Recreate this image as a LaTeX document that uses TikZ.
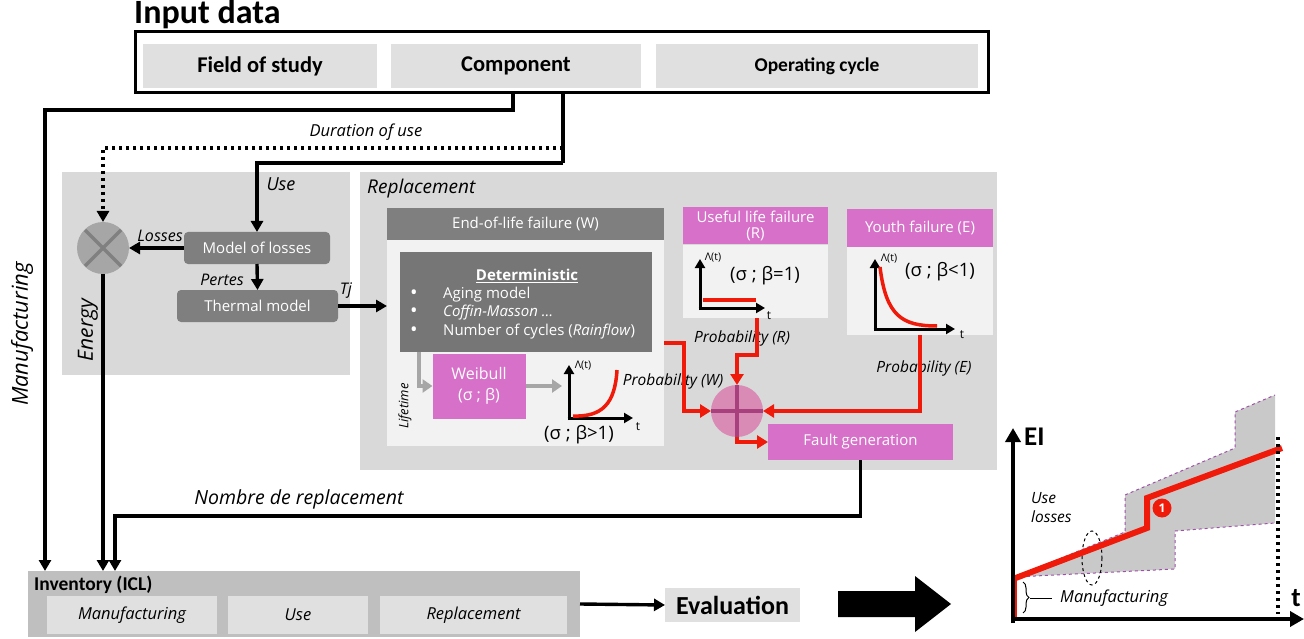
\documentclass[tikz,border=0pt]{standalone}
\usepackage{fontspec}
\setmainfont{Open Sans}
\newfontfamily\calfont{Carlito}
\usetikzlibrary{arrows.meta,calc,decorations.pathreplacing}
\newcommand{\fsz}[2]{\fontsize{#1}{#2}\selectfont}
\definecolor{panel}{HTML}{D9D9D9}
\definecolor{cell}{HTML}{E0E0E0}
\definecolor{dark}{HTML}{7F7F7F}
\definecolor{darker}{HTML}{767676}
\definecolor{bodyfill}{HTML}{F2F2F2}
\definecolor{mag}{HTML}{D670C8}
\definecolor{plusfill}{HTML}{D98BB6}
\definecolor{pluscross}{HTML}{A8407E}
\definecolor{xfill}{HTML}{A6A6A6}
\definecolor{xcross}{HTML}{808080}
\definecolor{invfill}{HTML}{BFBFBF}
\definecolor{band}{HTML}{C9C9C9}
\definecolor{bandedge}{HTML}{A050A8}
\definecolor{arrowgray}{HTML}{A6A6A6}
\definecolor{redline}{HTML}{F01A0A}
\tikzset{
  box/.style 2 args={rectangle,inner sep=0pt,outer sep=0pt,minimum width=#1,minimum height=#2},
  conn/.style={line width=3.4pt,-{Triangle[length=11pt,width=12pt]}},
  dotconn/.style={line width=3.5pt,dash pattern=on 3.5pt off 3.5pt,-{Triangle[length=11pt,width=12pt]}},
  redconn/.style={redline,line width=4pt,-{Triangle[length=11pt,width=13pt]}},
  grayconn/.style={arrowgray,line width=4.5pt,-{Triangle[length=10pt,width=13pt]}},
  plotaxis/.style={line width=3pt,-{Triangle[length=9pt,width=10pt]}},
  lab/.style={inner sep=0pt,font=\itshape\fsz{16}{18}},
  whitetxt/.style={text=white,font=\fsz{15}{17}},
}
\begin{document}
\begin{tikzpicture}[x=1pt,y=-1pt]
\useasboundingbox (0,0) rectangle (1304,639);

% ---------- input data ----------
\node[anchor=base west,inner sep=0pt,font=\calfont\bfseries\fsz{34}{38}] (title) at (134,24) {Input data};
\node[box={853}{61},draw,line width=3pt] (inbox) at (561.5,62.5) {};
\node[box={234}{44},fill=cell,font=\calfont\bfseries\fsz{22.5}{26}] (field) at (260,66) {Field of study};
\node[box={250}{44},fill=cell,font=\calfont\bfseries\fsz{22.5}{26}] (comp) at (516,66) {Component};
\node[box={322}{44},fill=cell,font=\calfont\bfseries\fsz{19.5}{22}] (opcyc) at (817,66) {Operating cycle};

% ---------- energy panel ----------
\node[box={288}{203},fill=panel] (energy) at (206,273.5) {};
\node[rotate=90,lab,font=\itshape\fsz{21}{24}] at (88,330) {Energy};
\node[circle,fill=xfill,minimum size=52pt,inner sep=0pt,outer sep=0pt] (mult) at (103,248) {};
\draw[xcross,line width=3.5pt] ($(mult)+(-18,-18)$) -- ($(mult)+(18,18)$)
                               ($(mult)+(-18,18)$) -- ($(mult)+(18,-18)$);
\node[box={146}{32},fill=dark,rounded corners=4pt,whitetxt] (loss) at (257,248) {Model of losses};
\node[box={161}{32},fill=dark,rounded corners=4pt,whitetxt] (therm) at (257.5,306) {Thermal model};

% ---------- replacement panel ----------
\node[box={637}{298},fill=panel] (repl) at (678.5,321) {};
\node[anchor=west,lab,font=\itshape\fsz{19}{22}] at (367,189) {Replacement};

% end-of-life failure
\node[box={277}{206},fill=bodyfill] (eolbody) at (525.5,343) {};
\node[box={277}{32},fill=dark,whitetxt] (eolhead) at (525.5,224) {End-of-life failure (W)};
\node[box={252}{100},fill=darker] (det) at (526,302) {};
\node[text=white,inner sep=0pt,font=\bfseries\fsz{15}{17}] at (527,276) {\underline{Deterministic}};
\foreach \yy/\tt in {295/{Aging model},313/{\itshape Coffin-Masson \dots},332/{Number of cycles (\textit{Rainflow})}}{
  \node[text=white,inner sep=0pt,font=\fsz{20}{20}] at (414,\yy) {\textbullet};
  \node[text=white,anchor=west,inner sep=0pt,font=\fsz{15}{17}] at (443,\yy) {\tt};
}
\node[box={93}{65},fill=mag,whitetxt,align=center,font=\fsz{16}{21}] (weib) at (479,386) {Weibull\\(σ ; β)};
\node[rotate=90,lab,font=\itshape\fsz{13}{15}] at (405,406) {Lifetime};
\coordinate (detg) at (419,352);
\coordinate (wtip) at (562,386);
\draw[grayconn] (detg) |- (weib.west);
\draw[grayconn] (weib.east) -- (wtip);
% hazard curve, beta > 1
\draw[plotaxis] (569,420) -- (569,365);
\draw[plotaxis] (567.5,418) -- (633,418);
\draw[redline,line width=3.5pt] (573,416) .. controls (602,417) and (615,404) .. (617,370);
\node[inner sep=0pt,font=\fsz{10.5}{12}] at (583,366) {Λ(t)};
\node[inner sep=0pt,font=\fsz{12}{13}] at (638,427) {t};
\node[inner sep=0pt,font=\fsz{18.5}{20}] at (579,435) {(σ ; β>1)};
\node[lab,font=\itshape\fsz{15.5}{17}] at (673,381) {Probability (W)};

% useful life failure
\node[box={145}{73},fill=bodyfill] (rbody) at (755.5,281.5) {};
\node[box={145}{37},fill=mag,whitetxt,align=center,font=\fsz{15}{16}] (rhead) at (755.5,226) {Useful life failure\\(R)};
\draw[plotaxis] (700,310) -- (700,259);
\draw[plotaxis] (698.5,308) -- (765,308);
\draw[redline,line width=3.5pt] (703,300) -- (756,300);
\node[inner sep=0pt,font=\fsz{10.5}{12}] at (713,258) {Λ(t)};
\node[inner sep=0pt,font=\fsz{12}{13}] at (769,316) {t};
\node[inner sep=0pt,font=\fsz{18.5}{20}] at (765,276) {(σ ; β=1)};
\node[lab,font=\itshape\fsz{15.5}{17}] at (742,338) {Probability (R)};

% youth failure
\node[box={146}{88},fill=bodyfill] (ebody) at (920,291) {};
\node[box={146}{38},fill=mag,whitetxt] (ehead) at (920,228) {Youth failure (E)};
\draw[plotaxis] (875,331) -- (875,259);
\draw[plotaxis] (873.5,329) -- (955,329);
\draw[redline,line width=3.5pt] (880,267) .. controls (886,316) and (902,326) .. (937,326);
\node[inner sep=0pt,font=\fsz{10.5}{12}] at (889,259) {Λ(t)};
\node[inner sep=0pt,font=\fsz{12}{13}] at (962,335) {t};
\node[inner sep=0pt,font=\fsz{18.5}{20}] at (940,272) {(σ ; β<1)};
\node[lab,font=\itshape\fsz{15.5}{17}] at (924,368) {Probability (E)};

% combination and fault generation
\node[circle,fill=plusfill,minimum size=52pt,inner sep=0pt,outer sep=0pt] (plus) at (737,411) {};
\draw[pluscross,line width=3.5pt] ($(plus)+(0,-26)$) -- ($(plus)+(0,26)$)
                                  ($(plus)+(-26,0)$) -- ($(plus)+(26,0)$);
\node[box={185}{36},fill=mag,whitetxt] (fault) at (860.5,442) {Fault generation};

\coordinate (redW) at (664,343);
\coordinate (rOut) at (757,318);
\coordinate (eOut) at (920,335);
\draw[redconn] (redW) -- (684,343) |- (plus.west);
\draw[redconn] (rOut) -- (757,355) -| (plus.north);
\draw[redconn] (eOut) |- (plus.east);
\draw[redconn] (plus.south) |- (fault.west);

% ---------- inventory and evaluation ----------
\node[box={552}{66},fill=invfill] (inv) at (304,604) {};
\node[anchor=west,inner sep=0pt,font=\calfont\bfseries\fsz{19.5}{22}] at (34,585) {Inventory (ICL)};
\node[box={170}{38},fill=cell,font=\itshape\fsz{16.5}{19}] (invm) at (132,615) {Manufacturing};
\node[box={140}{38},fill=cell,font=\itshape\fsz{16.5}{19}] (invu) at (298,615) {Use};
\node[box={187}{38},fill=cell,font=\itshape\fsz{16.5}{19}] (invr) at (473.5,615) {Replacement};
\node[box={135}{34},fill=cell,font=\calfont\bfseries\fsz{26}{30}] (eval) at (732.5,605) {Evaluation};
\draw[conn] (inv.east) -- (eval.west);

% ---------- connectors of the flow ----------
\coordinate (tapM) at (513,93);
\coordinate (tapU) at (563,93);
\coordinate (bendL) at (45,110);
\coordinate (bendD) at (563,148);
\coordinate (bendU) at (563,163);
\coordinate (bendR) at (115,516);
\draw[conn] (tapM) |- (bendL) -- (bendL |- inv.north);
\draw[line width=3.4pt] (tapU) -- (bendU);
\draw[conn] (bendU) -| (loss.north);
\draw[dotconn] (bendD) -| (mult.north);
\draw[conn] (mult.south) -- (mult.south |- inv.north);
\draw[conn] (loss.west) -- (mult.east);
\draw[conn] (loss.south) -- (therm.north);
\draw[conn] (therm.east) -- (therm.east -| eolbody.west);
\draw[conn] (fault.south) |- (bendR) -- (bendR |- inv.north);

\node[lab,font=\itshape\fsz{16.5}{19}] at (366,132) {Duration of use};
\node[lab,font=\itshape\fsz{18}{20}] at (281,184) {Use};
\node[lab] at (160,236) {Losses};
\node[lab] at (222,280) {Pertes};
\node[lab] at (346,291) {Tj};
\node[lab,font=\itshape\fsz{19.5}{22}] at (299,499) {Nombre de replacement};
\node[rotate=90,lab,font=\itshape\fsz{22}{25}] at (22,334) {Manufacturing};

% ---------- big arrow ----------
\fill (838,591) -- (915,591) -- (915,576) -- (951,604) -- (915,632) -- (915,617) -- (838,617) -- cycle;

% ---------- environmental impact over time ----------
\fill[band] (1015,577) -- (1125,532) -- (1125,495) -- (1235,448) -- (1235,412) -- (1275,395)
            -- (1275,523) -- (1175,531) -- (1175,569) -- cycle;
\draw[bandedge,dashed,line width=1pt] (1015,577) -- (1125,532) -- (1125,495) -- (1235,448) -- (1235,412) -- (1275,395);
\draw[bandedge,dashed,line width=1pt] (1015,577) -- (1175,569) -- (1175,531) -- (1275,523);
\draw[dashed,line width=1pt] (1092,558) ellipse [x radius=10, y radius=27];
\draw[redline,line width=6pt] (1014,617) -- (1014,579);
\draw[redline,line width=6pt] (1013,579) -- (1147,528) -- (1147,498) -- (1282,448);
\node[circle,fill=redline,minimum size=19pt,inner sep=0pt,text=white,font=\bfseries\fsz{12}{13}] (mk) at (1162,508) {1};
\draw[line width=3.5pt,dash pattern=on 3pt off 4pt] (1278,437) -- (1278,614);
\draw[line width=3.5pt,-{Triangle[length=14pt,width=15pt]}] (1013,623) -- (1013,428);
\draw[line width=3.5pt,-{Triangle[length=14pt,width=15pt]}] (1011,619) -- (1304,619);
\node[anchor=west,inner sep=0pt,font=\calfont\bfseries\fsz{27}{30}] at (1024,437) {EI};
\node[inner sep=0pt,font=\calfont\bfseries\fsz{27}{30}] at (1296,598) {t};
\node[anchor=west,lab,font=\itshape\fsz{15.5}{17}] at (1031,498) {Use};
\node[anchor=west,lab,font=\itshape\fsz{15.5}{17}] at (1031,517) {losses};
\draw[decorate,decoration={brace,amplitude=6pt},line width=1pt] (1023,582) -- (1023,613);
\draw[line width=1pt] (1030,598) -- (1052,598);
\node[anchor=west,lab,font=\itshape\fsz{16.5}{19}] at (1060,598) {Manufacturing};
\end{tikzpicture}
\end{document}
